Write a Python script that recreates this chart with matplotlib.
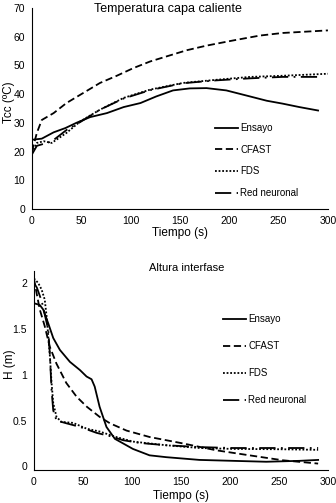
import matplotlib
matplotlib.use('Agg')
import matplotlib.pyplot as plt

plt.rcParams['font.family'] = ['Liberation Sans', 'DejaVu Sans']

# Temperatura capa caliente (Tcc, ºC)
t_ens_T = [0, 10, 22, 34, 45, 59, 76, 93, 110, 126, 143, 160, 177, 197, 221, 238, 254, 271, 290]
T_ens = [24.1, 24.5, 26.7, 28.2, 30.0, 32.0, 33.4, 35.5, 36.9, 39.2, 41.3, 42.0, 42.1, 41.3, 39.2, 37.7, 36.7, 35.5, 34.3]
t_cfast_T = [0, 5, 10, 22, 35, 52, 69, 86, 103, 120, 137, 157, 177, 204, 231, 254, 300]
T_cfast = [20.0, 26.5, 31.0, 33.4, 36.9, 40.4, 43.9, 46.4, 49.1, 51.4, 53.2, 55.3, 56.9, 58.7, 60.4, 61.3, 62.2]
t_fds_T = [0, 5, 12, 20, 35, 49, 69, 93, 120, 153, 187, 221, 254, 300]
T_fds = [19.5, 23.0, 23.6, 23.0, 26.5, 30.5, 34.6, 38.7, 41.6, 43.9, 45.0, 46.0, 46.4, 47.1]
t_red_T = [0, 5, 20, 35, 50, 69, 93, 120, 153, 187, 221, 254, 290]
T_red = [19.0, 22.0, 23.5, 27.5, 30.5, 34.6, 38.5, 41.4, 43.8, 44.8, 45.5, 46.0, 46.0]

# Altura interfase (H, m)
t_ens_H = [0, 6, 9.5, 14.6, 19.7, 26.5, 36.7, 47, 53.7, 58.8, 62, 67, 74, 82.6, 91, 101, 118, 135, 169, 203, 237, 271, 290]
H_ens = [1.78, 1.76, 1.71, 1.56, 1.40, 1.27, 1.14, 1.05, 0.98, 0.95, 0.87, 0.65, 0.43, 0.30, 0.25, 0.19, 0.12, 0.10, 0.07, 0.06, 0.05, 0.06, 0.07]
t_cfast_H = [0, 2.7, 6, 11, 16, 23, 33, 43.5, 54, 67, 77.5, 94.5, 118, 152, 186, 220, 254, 290]
H_cfast = [2.05, 1.89, 1.71, 1.53, 1.31, 1.12, 0.91, 0.76, 0.65, 0.54, 0.47, 0.39, 0.32, 0.25, 0.175, 0.12, 0.066, 0.03]
t_fds_H = [0, 4.4, 7.8, 11, 13, 14.6, 16.3, 18, 19.7, 23, 28, 40, 54, 67, 84, 101, 135, 169, 203, 254, 290]
H_fds = [2.05, 2.0, 1.93, 1.82, 1.63, 1.42, 1.2, 0.91, 0.69, 0.54, 0.485, 0.474, 0.41, 0.38, 0.32, 0.27, 0.23, 0.20, 0.19, 0.186, 0.18]
t_red_H = [0, 3, 8, 14.6, 16, 18, 19.7, 23, 33, 47, 64, 77.5, 91, 108, 135, 169, 203, 254, 290]
H_red = [2.0, 1.95, 1.8, 1.49, 1.27, 0.83, 0.61, 0.5, 0.47, 0.43, 0.365, 0.33, 0.285, 0.255, 0.23, 0.21, 0.2, 0.2, 0.2]

labels = ['Ensayo', 'CFAST', 'FDS', 'Red neuronal']
styles = ['-', (0, (4, 2)), (0, (1, 1)), (0, (9, 3, 1, 3))]

fig = plt.figure(figsize=(3.36, 5.03), dpi=100)

ax1 = fig.add_axes([0.095, 0.5845, 0.881, 0.3996])
ax2 = fig.add_axes([0.101, 0.0656, 0.875, 0.3954])

for x, y, ls, lab in zip([t_ens_T, t_cfast_T, t_fds_T, t_red_T], [T_ens, T_cfast, T_fds, T_red], styles, labels):
    ax1.plot(x, y, color='black', lw=1.3, linestyle=ls, label=lab)
for x, y, ls, lab in zip([t_ens_H, t_cfast_H, t_fds_H, t_red_H], [H_ens, H_cfast, H_fds, H_red], styles, labels):
    ax2.plot(x, y, color='black', lw=1.3, linestyle=ls, label=lab)

ax1.set_xlim(0, 300)
ax1.set_ylim(0, 70)
ax1.set_xticks([0, 50, 100, 150, 200, 250, 300])
ax1.set_yticks(range(0, 71, 10))
ax1.set_xlabel('Tiempo (s)', fontsize=8.5, labelpad=1)
ax1.set_ylabel('Tcc (ºC)', fontsize=8.5)
ax1.yaxis.set_label_coords(-0.058, 0.53)

ax2.set_xlim(0, 300)
ax2.set_ylim(-0.04, 2.13)
ax2.set_xticks([0, 50, 100, 150, 200, 250, 300])
ax2.set_yticks([0, 0.5, 1, 1.5, 2])
ax2.set_yticklabels(['0', '0.5', '1', '1.5', '2'])
ax2.set_xlabel('Tiempo (s)', fontsize=8.5, labelpad=2)
ax2.set_ylabel('H (m)', fontsize=8.5)
ax2.yaxis.set_label_coords(-0.062, 0.53)

fig.text(0.5, 1 - 9 / 503, 'Temperatura capa caliente', fontsize=9, ha='center', va='center')
fig.text(187 / 336, 1 - 268 / 503, 'Altura interfase', fontsize=8, ha='center', va='center')

for ax in (ax1, ax2):
    ax.spines['top'].set_visible(False)
    ax.spines['right'].set_visible(False)
    ax.tick_params(length=0, labelsize=7.5, pad=5)

ax1.legend(loc='upper left', bbox_to_anchor=(215 / 336, 1 - 123 / 503), bbox_transform=fig.transFigure,
           frameon=False, fontsize=7, handlelength=2.4, handletextpad=0.2, labelspacing=1.2,
           borderpad=0, borderaxespad=0)
ax2.legend(loc='upper left', bbox_to_anchor=(223 / 336, 1 - 314 / 503), bbox_transform=fig.transFigure,
           frameon=False, fontsize=7, handlelength=2.4, handletextpad=0.2, labelspacing=1.75,
           borderpad=0, borderaxespad=0)

plt.savefig('out.png', dpi=100)
